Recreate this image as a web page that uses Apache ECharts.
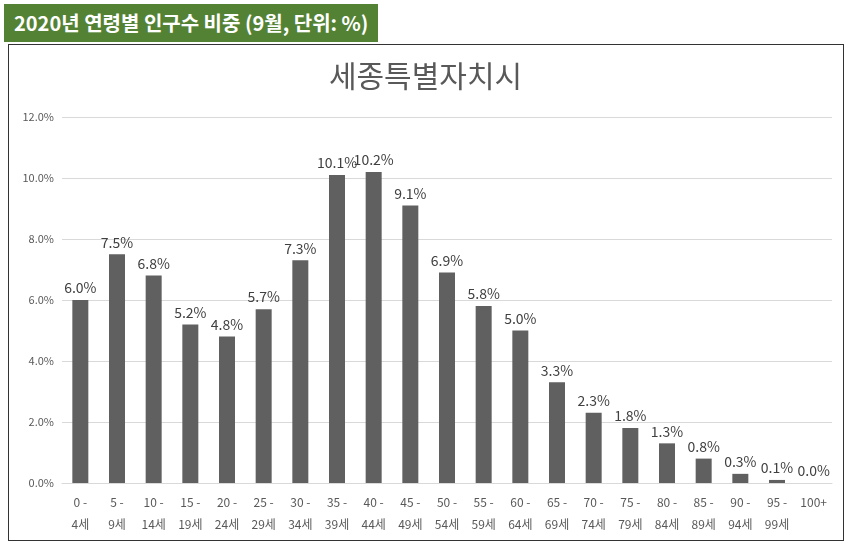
<!DOCTYPE html>
<html><head><meta charset="utf-8">
<script src="https://cdn.jsdelivr.net/npm/echarts@6/dist/echarts.min.js"></script>
<style>
body{margin:0;background:#fff;font-family:"Noto Sans CJK KR",sans-serif}
#hdr{position:absolute;left:4px;top:4px;height:38px;padding:0 10px;background:#548235;color:#fff;font-weight:bold;font-size:20px;line-height:38px}
#box{position:absolute;left:8px;top:44px;width:834px;height:495px;border:1px solid #333}
#chart{position:absolute;left:0;top:0;width:851px;height:546px}
</style></head><body>
<div id="box"></div>
<div id="chart"></div>
<div id="hdr">2020년 연령별 인구수 비중 (9월, 단위: %)</div>
<script>
const categories = ['0 -\n4세','5 -\n9세','10 -\n14세','15 -\n19세','20 -\n24세','25 -\n29세','30 -\n34세','35 -\n39세','40 -\n44세','45 -\n49세','50 -\n54세','55 -\n59세','60 -\n64세','65 -\n69세','70 -\n74세','75 -\n79세','80 -\n84세','85 -\n89세','90 -\n94세','95 -\n99세','100+'];
const values = [6.0,7.5,6.8,5.2,4.8,5.7,7.3,10.1,10.2,9.1,6.9,5.8,5.0,3.3,2.3,1.8,1.3,0.8,0.3,0.1,0.0];
const title = '세종특별자치시';

const myChart = echarts.init(document.getElementById('chart'));
const font = '"Noto Sans CJK KR", sans-serif';
myChart.setOption({
    animation: false,
    title: { text: title, left: 'center', top: 56, textStyle: { fontSize: 30, fontWeight: 'normal', color: '#595959', fontFamily: font } },
    grid: { left: 62, right: 19, top: 117, bottom: 63 },
    xAxis: {
        type: 'category', data: categories,
        axisTick: { show: false },
        axisLine: { lineStyle: { color: '#d9d9d9' } },
        axisLabel: { color: '#595959', fontSize: 12, lineHeight: 22, interval: 0, fontFamily: font, margin: 8 }
    },
    yAxis: {
        type: 'value', min: 0, max: 12, interval: 2,
        axisLabel: { formatter: v => v.toFixed(1) + '%', color: '#595959', fontSize: 11, fontFamily: font },
        splitLine: { lineStyle: { color: '#d9d9d9' } }
    },
    series: [{
        type: 'bar', data: values, barWidth: 16,
        itemStyle: { color: '#606060' },
        label: { show: true, position: 'top', formatter: p => p.value.toFixed(1) + '%', color: '#404040', fontSize: 14, fontFamily: font }
    }]
});
</script>
</body></html>
